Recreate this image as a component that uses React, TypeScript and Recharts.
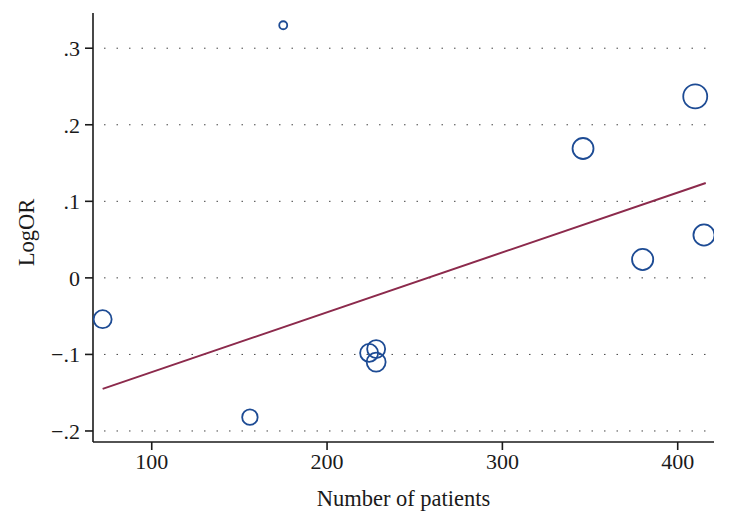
import { ScatterChart, Scatter, XAxis, YAxis, ZAxis, CartesianGrid, Label } from 'recharts'

// study size vs. log odds ratio, one bubble per study (weight = bubble size)
const patients = [72, 156, 175, 224, 228, 228, 346, 410, 415, 380]
const logOR = [-0.054, -0.182, 0.33, -0.098, -0.093, -0.11, 0.169, 0.237, 0.056, 0.024]
const weights = [81, 60, 16, 81, 81, 90, 110, 144, 112, 112]

// fitted meta-regression line, end points
const fitX = [72, 416]
const fitY = [-0.145, 0.124]

const xTicks = [100, 200, 300, 400]
const yTicks = [-0.2, -0.1, 0, 0.1, 0.2, 0.3]

const studies = patients.map((n, i) => ({ n, lor: logOR[i], w: weights[i] }))
const fit = fitX.map((n, i) => ({ n, lor: fitY[i], w: 0 }))

const font = 'Liberation Serif, Times New Roman, serif'
const ink = '#1a1a1a'

const fmtY = (v: number) => {
  if (v === 0) return '0'
  const s = Math.abs(v).toFixed(1).replace(/^0/, '')
  return v < 0 ? '\u2212' + s : s
}

export default function App() {
  return (
    <div style={{ position: 'absolute', left: 0, top: 0, width: 729, height: 523, background: '#fff' }}>
      <ScatterChart width={729} height={523} margin={{ top: 13, right: 15, left: 0, bottom: 0 }}>
        <CartesianGrid
          vertical={false}
          horizontalValues={yTicks}
          stroke="#444"
          strokeDasharray="1.5 11"
          strokeDashoffset={-11}
        />
        <XAxis
          type="number"
          dataKey="n"
          domain={[66.5, 420.7]}
          ticks={xTicks}
          allowDataOverflow
          height={81}
          tickSize={8}
          tickMargin={3}
          stroke={ink}
          strokeWidth={1.6}
          tick={{ fill: ink, fontSize: 22, fontFamily: font }}
        >
          <Label value="Number of patients" position="insideBottom" offset={17} fill={ink} fontSize={22.5} fontFamily={font} />
        </XAxis>
        <YAxis
          type="number"
          dataKey="lor"
          domain={[-0.2144, 0.346]}
          ticks={yTicks}
          allowDataOverflow
          width={93}
          tickSize={8}
          tickMargin={5}
          tickFormatter={fmtY}
          stroke={ink}
          strokeWidth={1.6}
          tick={{ fill: ink, fontSize: 22, fontFamily: font }}
        >
          <Label
            content={({ viewBox }: any) => {
              const cx = viewBox.x + 26
              const cy = viewBox.y + viewBox.height / 2 + 5
              return (
                <text x={cx} y={cy} transform={`rotate(-90 ${cx} ${cy})`} textAnchor="middle" dominantBaseline="central" fill={ink} fontSize={22.5} fontFamily={font}>
                  LogOR
                </text>
              )
            }}
          />
        </YAxis>
        <ZAxis type="number" dataKey="w" domain={[0, 144]} range={[0, 452.4]} />
        <Scatter
          data={fit}
          line={{ stroke: '#8c2a4c', strokeWidth: 2 }}
          shape={() => null}
          isAnimationActive={false}
        />
        <Scatter
          data={studies}
          shape="circle"
          fill="none"
          stroke="#1d4b94"
          strokeWidth={1.8}
          isAnimationActive={false}
        />
      </ScatterChart>
    </div>
  )
}
